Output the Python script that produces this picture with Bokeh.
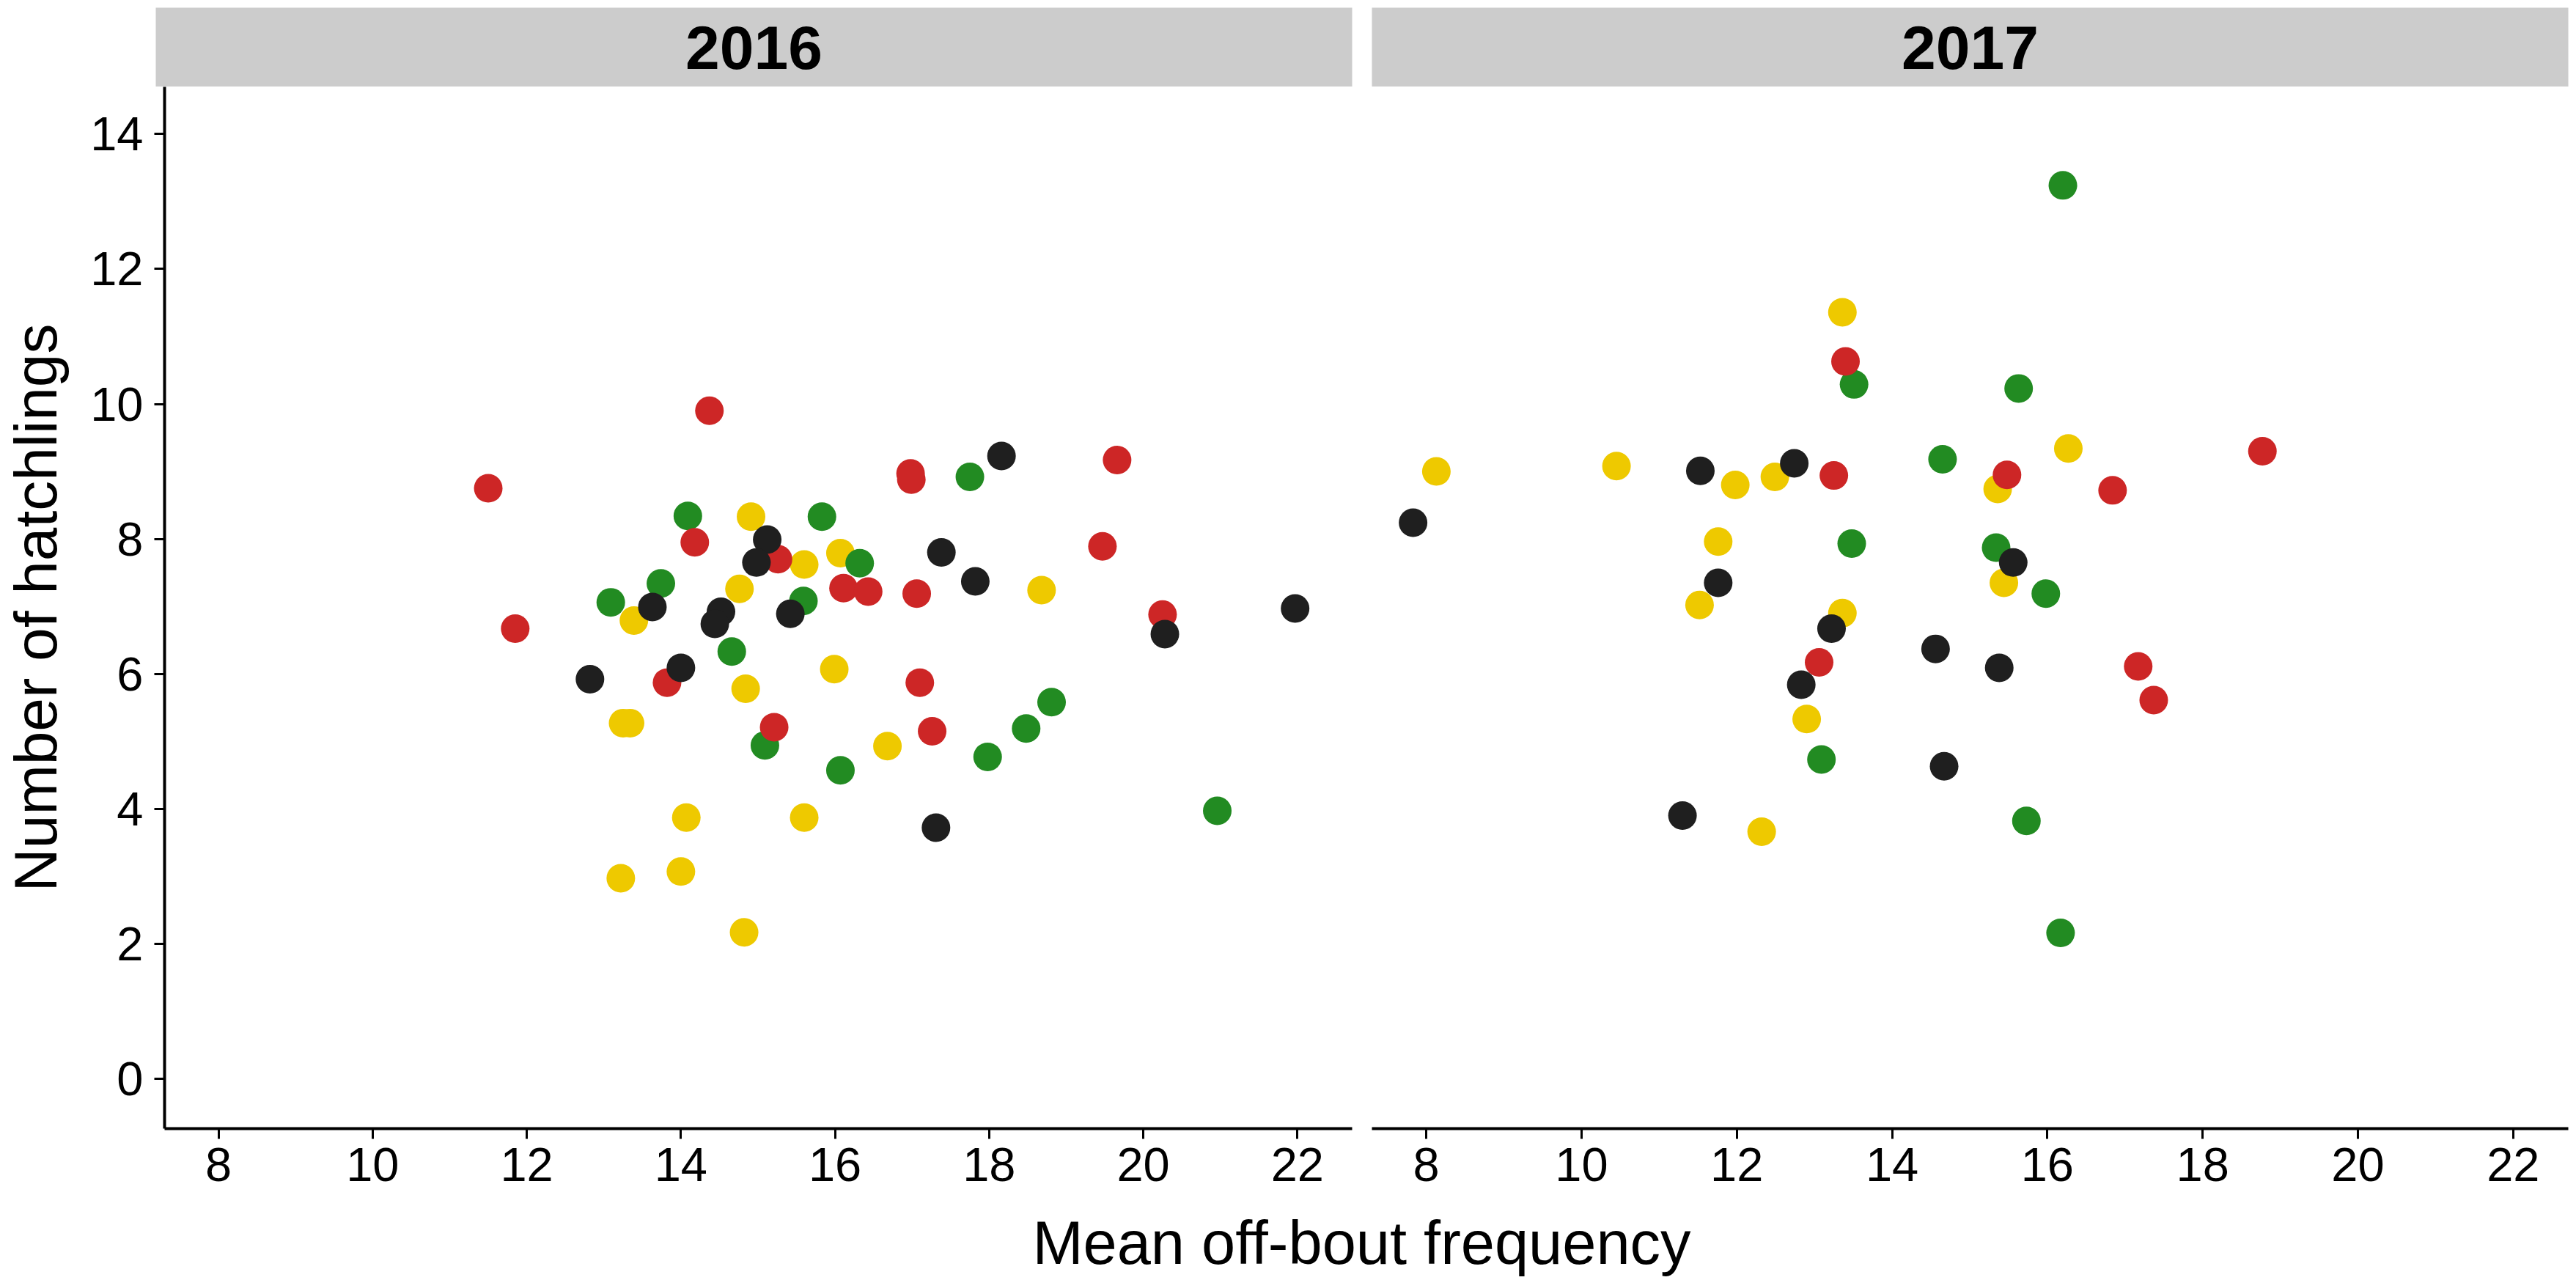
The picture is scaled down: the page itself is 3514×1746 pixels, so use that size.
from bokeh.plotting import figure
from bokeh.models import Range1d, FixedTicker
from bokeh.layouts import column, row
from bokeh.embed import file_html
from bokeh.resources import INLINE
from bokeh.core.properties import value

# ---------------- data ----------------
years = ["2016", "2017"]
x_title = "Mean off-bout frequency"
y_title = "Number of hatchlings"
x_ticks = [8, 10, 12, 14, 16, 18, 20, 22]
y_ticks = [0, 2, 4, 6, 8, 10, 12, 14]

group_order = ["yellow", "green", "red", "black"]
group_colors = {"yellow": "#EEC900", "green": "#228B22",
                "red": "#CD2626", "black": "#1F1F1F"}

# 2016
x16_red = [14.37, 11.50, 11.85, 14.18, 15.26, 16.11, 16.43, 13.82, 15.21,
           16.98, 16.99, 19.66, 17.06, 19.47, 20.25, 17.10, 17.26]
y16_red = [9.90, 8.75, 6.67, 7.95, 7.70, 7.27, 7.22, 5.87, 5.21,
           8.97, 8.88, 9.17, 7.19, 7.89, 6.88, 5.87, 5.15]
x16_green = [14.09, 15.83, 16.32, 13.09, 13.74, 15.59, 14.66, 15.09, 16.07,
             17.75, 17.98, 18.48, 18.81, 20.96]
y16_green = [8.34, 8.33, 7.64, 7.06, 7.34, 7.08, 6.33, 4.94, 4.57,
             8.92, 4.77, 5.19, 5.58, 3.97]
x16_yellow = [14.91, 15.60, 16.07, 13.39, 14.76, 14.84, 15.99, 13.25, 13.34,
              16.68, 14.07, 15.60, 13.22, 14.00, 14.82, 18.68]
y16_yellow = [8.33, 7.62, 7.79, 6.79, 7.26, 5.78, 6.07, 5.27, 5.27,
              4.93, 3.87, 3.87, 2.97, 3.07, 2.17, 7.24]
x16_black = [15.12, 14.98, 13.63, 14.52, 14.44, 15.42, 12.82, 14.00, 18.16,
             17.38, 17.82, 20.28, 21.97, 17.31]
y16_black = [7.99, 7.65, 6.99, 6.92, 6.74, 6.89, 5.92, 6.09, 9.23,
             7.80, 7.37, 6.59, 6.97, 3.72]

# 2017
x17_red = [13.25, 13.40, 13.06, 18.77, 15.48, 16.84, 17.17, 17.37]
y17_red = [8.94, 10.63, 6.17, 9.30, 8.95, 8.72, 6.11, 5.61]
x17_green = [13.51, 13.48, 13.09, 16.20, 15.63, 14.65, 15.34, 15.98, 15.73, 16.17]
y17_green = [10.29, 7.93, 4.73, 13.24, 10.23, 9.18, 7.87, 7.19, 3.82, 2.16]
x17_yellow = [8.13, 10.45, 11.98, 12.49, 13.36, 11.76, 11.52, 13.36, 12.90,
              12.32, 16.27, 15.36, 15.44]
y17_yellow = [9.00, 9.08, 8.80, 8.92, 11.36, 7.96, 7.02, 6.90, 5.33,
              3.66, 9.34, 8.74, 7.35]
x17_black = [7.83, 11.53, 12.74, 11.76, 13.22, 12.83, 11.30, 15.56, 14.56,
             15.38, 14.67]
y17_black = [8.24, 9.01, 9.12, 7.35, 6.67, 5.84, 3.90, 7.65, 6.37,
             6.09, 4.63]

panel_data = {
    "2016": {"yellow": (x16_yellow, y16_yellow), "green": (x16_green, y16_green),
             "red": (x16_red, y16_red), "black": (x16_black, y16_black)},
    "2017": {"yellow": (x17_yellow, y17_yellow), "green": (x17_green, y17_green),
             "red": (x17_red, y17_red), "black": (x17_black, y17_black)},
}

# ---------------- styling / layout ----------------
FONT = "Liberation Sans"
X_LO, X_HI = 7.30, 22.71
Y_LO, Y_HI = -0.74, 14.70
FRAME_H = 1421
MAIN_BOTTOM = 108
STRIP_TOP = 10
STRIP_H = 118
XLAB_H = 98
XLAB_CENTER_FROM_TOP = 48

panels = [
    # (year, width, min_border_left, min_border_right, show y axis)
    ("2016", 1857, 212, 13, True),
    ("2017", 1649, 14, 3, False),
]

strips = []
mains = []
for year, width, bl, br, show_y in panels:
    p = figure(width=width, height=FRAME_H + MAIN_BOTTOM,
               x_range=Range1d(X_LO, X_HI), y_range=Range1d(Y_LO, Y_HI),
               output_backend="svg", toolbar_location=None,
               min_border_left=bl, min_border_right=br,
               min_border_top=0, min_border_bottom=MAIN_BOTTOM,
               y_axis_location="left" if show_y else None)
    p.outline_line_color = None
    p.grid.visible = False
    p.background_fill_color = "white"
    p.border_fill_color = "white"

    axes = [p.xaxis[0]] + ([p.yaxis[0]] if show_y else [])
    for ax in axes:
        ax.axis_line_width = 4
        ax.axis_line_color = "black"
        ax.major_tick_line_width = 3
        ax.major_tick_line_color = "black"
        ax.major_tick_in = 0
        ax.major_tick_out = 14
        ax.minor_tick_line_color = None
        ax.major_label_text_font = FONT
        ax.major_label_text_font_size = "65px"
        ax.major_label_text_color = "black"
    p.xaxis.ticker = FixedTicker(ticks=x_ticks)
    p.xaxis.major_label_standoff = 12
    if show_y:
        p.yaxis.ticker = FixedTicker(ticks=y_ticks)
        p.yaxis.major_label_standoff = 15
        p.yaxis.axis_label = y_title
        p.yaxis.axis_label_text_font = FONT
        p.yaxis.axis_label_text_font_size = "82px"
        p.yaxis.axis_label_text_font_style = "normal"
        p.yaxis.axis_label_text_color = "black"
        p.yaxis.axis_label_standoff = 26

    for g in group_order:
        xs, ys = panel_data[year][g]
        p.scatter(xs, ys, size=39, fill_color=group_colors[g],
                  line_color=None, marker="circle")
    mains.append(p)

    s = figure(width=width, height=STRIP_H,
               x_range=p.x_range, y_range=Range1d(0, 1),
               output_backend="svg", toolbar_location=None,
               min_border_left=bl, min_border_right=br,
               min_border_top=STRIP_TOP, min_border_bottom=0,
               x_axis_location=None, y_axis_location=None,
               background_fill_color="#CCCCCC")
    s.outline_line_color = None
    s.grid.visible = False
    s.border_fill_color = "white"
    s.text(x=[(X_LO + X_HI) / 2], y=[0.5], text=[year],
           text_font=value(FONT), text_font_style="bold",
           text_font_size="84px", text_align="center",
           text_baseline="middle", text_color="black")
    strips.append(s)

total_w = sum(w for _, w, _, _, _ in panels)
# x-axis title shared by both panels, on its own canvas below the panels
xl = figure(width=total_w, height=XLAB_H,
            x_range=Range1d(0, total_w), y_range=Range1d(0, XLAB_H),
            output_backend="svg", toolbar_location=None,
            min_border_left=0, min_border_right=0,
            min_border_top=0, min_border_bottom=0,
            x_axis_location=None, y_axis_location=None)
xl.outline_line_color = None
xl.grid.visible = False
xl.text(x=[1857], y=[XLAB_H - XLAB_CENTER_FROM_TOP], text=[x_title],
        text_font=value(FONT), text_font_size="83px", text_align="center",
        text_baseline="middle", text_color="black")

layout = column(row(*strips), row(*mains), xl)

open("out.html", "w").write(file_html(layout, INLINE))
